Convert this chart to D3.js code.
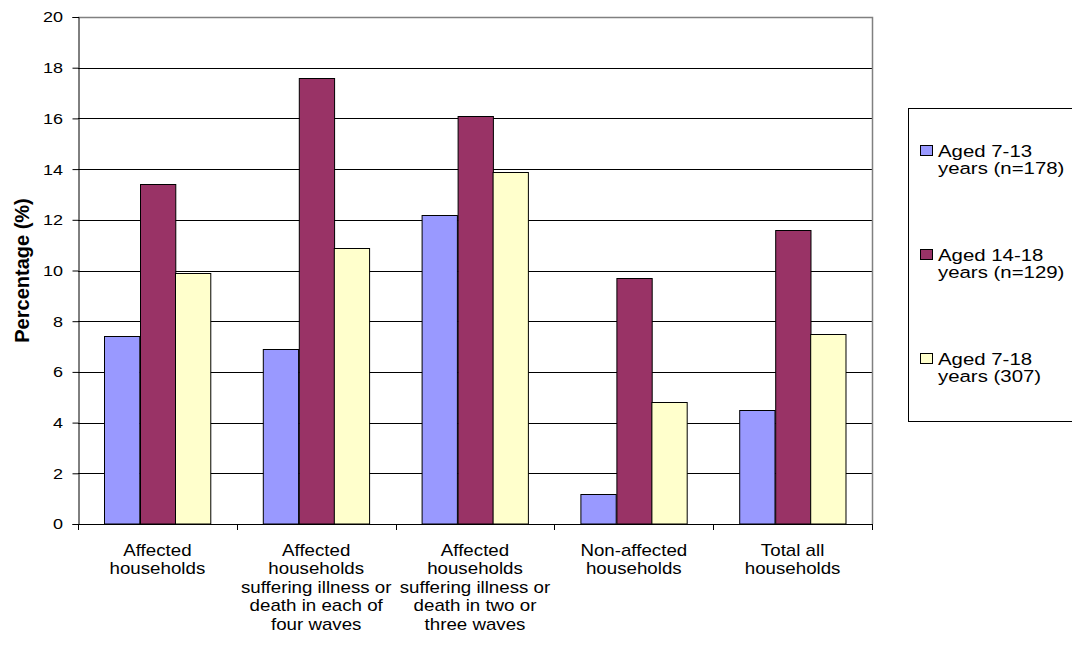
<!DOCTYPE html>
<html>
<head>
<meta charset="utf-8">
<script src="https://cdn.jsdelivr.net/npm/d3@7"></script>
<style>
  html, body { margin: 0; padding: 0; background: #fff; }
  svg { display: block; }
  text { font-family: "Liberation Sans", Arial, sans-serif; fill: #000; }
</style>
</head>
<body>
<svg id="chart" width="1072" height="652"></svg>
<script>
// Household groups (x-axis categories), as wrapped on the axis
const categories = [
  "Affected households",
  "Affected households suffering illness or death in each of four waves",
  "Affected households suffering illness or death in two or three waves",
  "Non-affected households",
  "Total all households"
];
const categoryLines = [
  ["Affected", "households"],
  ["Affected", "households", "suffering illness or", "death in each of", "four waves"],
  ["Affected", "households", "suffering illness or", "death in two or", "three waves"],
  ["Non-affected", "households"],
  ["Total all", "households"]
];

// Series
const seriesNames = ["Aged 7-13 years (n=178)", "Aged 14-18 years (n=129)", "Aged 7-18 years (307)"];
const seriesLines = [
  ["Aged 7-13", "years (n=178)"],
  ["Aged 14-18", "years (n=129)"],
  ["Aged 7-18", "years (307)"]
];
const seriesColors = ["#9999FF", "#993366", "#FFFFCC"];

// Percentage values per category, one array per series
const aged7to13 = [7.4, 6.9, 12.2, 1.2, 4.5];
const aged14to18 = [13.4, 17.6, 16.1, 9.7, 11.6];
const aged7to18 = [9.9, 10.9, 13.9, 4.8, 7.5];
const seriesValues = [aged7to13, aged14to18, aged7to18];

const yTicks = [0, 2, 4, 6, 8, 10, 12, 14, 16, 18, 20];
const yTitle = "Percentage (%)";

// Text in this chart is drawn slightly widened horizontally
const SX = 1.2;

const svg = d3.select("#chart");
const plot = { left: 78, right: 872, top: 17, bottom: 524 };

const x = d3.scaleBand().domain(categories).range([plot.left, plot.right]).padding(0);
const xSub = d3.scaleBand().domain(seriesNames).range([0, x.bandwidth()])
  .paddingInner(0).paddingOuter(0.75);
const y = d3.scaleLinear().domain([0, 20]).range([plot.bottom, plot.top]);

// Gridlines
svg.append("g")
  .selectAll("line")
  .data(yTicks.filter(t => t > 0 && t < 20))
  .join("line")
  .attr("x1", plot.left).attr("x2", plot.right)
  .attr("y1", d => Math.round(y(d)) + 0.5).attr("y2", d => Math.round(y(d)) + 0.5)
  .attr("stroke", "#000").attr("stroke-width", 1);

// Plot area border (top and right)
svg.append("path")
  .attr("d", `M${plot.left},${plot.top + 0.5}H${plot.right + 0.5}V${plot.bottom}`)
  .attr("fill", "none").attr("stroke", "#808080").attr("stroke-width", 1.5);

// Bars
const groups = svg.append("g").selectAll("g")
  .data(categories)
  .join("g")
  .attr("transform", d => `translate(${x(d)},0)`);

groups.selectAll("rect")
  .data((d, i) => seriesNames.map((s, j) => ({ s, j, v: seriesValues[j][i] })))
  .join("rect")
  .attr("x", d => Math.round(xSub(d.s)) + 0.5)
  .attr("width", xSub.bandwidth())
  .attr("y", d => Math.round(y(d.v)) + 0.5)
  .attr("height", d => y(0) - Math.round(y(d.v)) - 0.5)
  .attr("fill", d => seriesColors[d.j])
  .attr("stroke", "#000").attr("stroke-width", 1);

// Y axis
const yAxis = svg.append("g")
  .attr("transform", `translate(${plot.left + 0.5},0)`)
  .call(d3.axisLeft(y).tickValues(yTicks).tickSize(6).tickFormat(""));
yAxis.select(".domain").attr("stroke", "#000");
yAxis.selectAll(".tick line").attr("stroke", "#000");

// Y tick labels, widened
svg.append("g").selectAll("text")
  .data(yTicks)
  .join("text")
  .attr("transform", d => `translate(63,${y(d)}) scale(${SX},1)`)
  .attr("text-anchor", "end")
  .attr("dy", "0.36em")
  .style("font-size", "15px")
  .text(d3.format("d"));

// X axis line
svg.append("line")
  .attr("x1", plot.left).attr("x2", plot.right + 0.5)
  .attr("y1", plot.bottom + 0.5).attr("y2", plot.bottom + 0.5)
  .attr("stroke", "#000");

// Category separators on the x axis
svg.append("g").selectAll("line")
  .data(d3.range(categories.length + 1))
  .join("line")
  .attr("x1", i => Math.round(plot.left + i * x.step()) + 0.5)
  .attr("x2", i => Math.round(plot.left + i * x.step()) + 0.5)
  .attr("y1", plot.bottom).attr("y2", plot.bottom + 6)
  .attr("stroke", "#000");

// Category labels
const catLabels = svg.append("g").selectAll("text")
  .data(categories)
  .join("text")
  .attr("text-anchor", "middle")
  .style("font-size", "16px")
  .attr("transform", d => `translate(${x(d) + x.bandwidth() / 2},555.5) scale(1.17,1)`);
catLabels.selectAll("tspan")
  .data((d, i) => categoryLines[i])
  .join("tspan")
  .attr("x", 0)
  .attr("y", (d, k) => k * 18.6)
  .text(d => d);

// Y title
svg.append("text")
  .attr("transform", `translate(29,${(plot.top + plot.bottom) / 2}) scale(1.05,1) rotate(-90)`)
  .attr("text-anchor", "middle")
  .style("font-size", "20px").style("font-weight", "bold")
  .text(yTitle);

// Legend
const legend = svg.append("g");
legend.append("rect")
  .attr("x", 908.5).attr("y", 108.5).attr("width", 180).attr("height", 313)
  .attr("fill", "#fff").attr("stroke", "#000");
const items = legend.selectAll("g.item")
  .data(seriesNames)
  .join("g").attr("class", "item")
  .attr("transform", (d, i) => `translate(0,${151 + i * 104})`);
items.append("rect")
  .attr("x", 920.5).attr("y", -5.5).attr("width", 12).attr("height", 10)
  .attr("fill", (d, i) => seriesColors[i]).attr("stroke", "#000");
items.append("text")
  .attr("transform", `translate(938,0) scale(${SX},1)`)
  .style("font-size", "17px")
  .selectAll("tspan")
  .data((d, i) => seriesLines[i])
  .join("tspan")
  .attr("x", 0)
  .attr("y", (d, k) => 6 + k * 17.5)
  .text(d => d);
</script>
</body>
</html>
